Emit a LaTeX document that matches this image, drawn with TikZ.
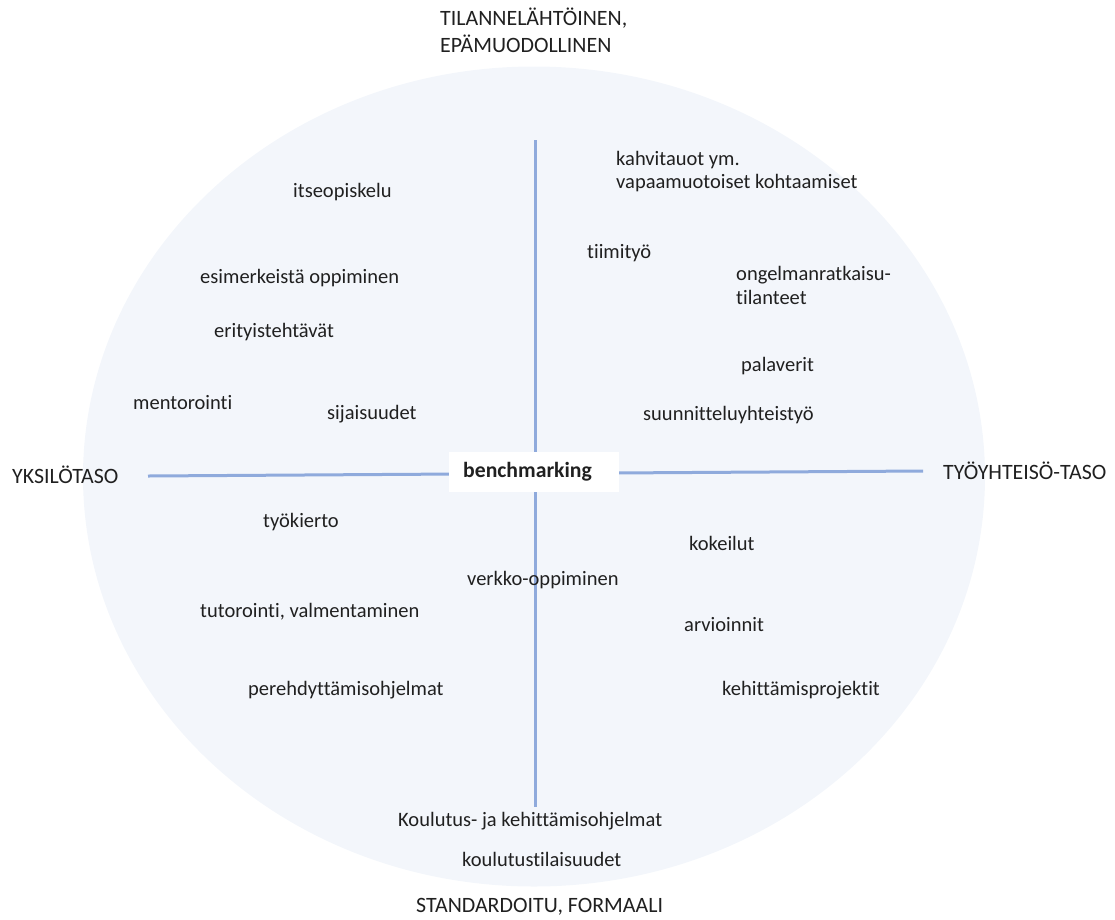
\documentclass[tikz,border=0pt]{standalone}
\usepackage{fontspec}
\setmainfont{Carlito}[Ligatures=NoCommon]
\usetikzlibrary{positioning}
\definecolor{discfill}{HTML}{F3F6FB}
\definecolor{axisblue}{HTML}{8FAADC}
\definecolor{inktext}{HTML}{202020}
\tikzset{
  axisline/.style={draw=axisblue, line width=3pt},
  item/.style={anchor=west, inner sep=0pt, text=inktext, align=left, font=\fontsize{20.5}{25}\selectfont},
  pole/.style={item, font=\fontsize{21.9}{26}\selectfont}
}
\begin{document}
\begin{tikzpicture}[x=1pt, y=-1pt]
\useasboundingbox (0,0) rectangle (1115,919);
\fill[discfill] (534,476.5) ellipse [x radius=451, y radius=410];
% axes
\coordinate (west) at (148,476);
\coordinate (east) at (923,471);
\coordinate (north) at (535,140);
\coordinate (south) at (535,807);
\draw[axisline] (west) -- (east);
\draw[axisline] (north) -- (south);
\node[item, fill=white, minimum height=40pt, text width=142pt, inner xsep=14pt, font=\fontsize{21.7}{26}\selectfont\bfseries] (bench) at (449,472) {benchmarking};
% poles
\node[pole] (tilanne) at (440,18) {TILANNELÄHTÖINEN,};
\node[pole] (epamuod) at (440,44) {EPÄMUODOLLINEN};
\node[pole] (yksilo) at (12,475) {YKSILÖTASO};
\node[pole] (tyoyht) at (943,471) {TYÖYHTEISÖ-TASO};
\node[pole] (standard) at (416,907) {STANDARDOITU, FORMAALI};
% learning forms
\foreach \nm/\px/\py/\txt in {itse/293/192/itseopiskelu, esim/200/278/esimerkeistä oppiminen, erit/214/332/erityistehtävät, mento/133/403/mentorointi, sijai/327/414/sijaisuudet, kahvi/616/160/kahvitauot ym., vapaa/616/183/vapaamuotoiset kohtaamiset, tiimi/587/253/tiimityö, ongel/736/275/ongelmanratkaisu-, tilan/736/297/tilanteet, pala/741/366/palaverit, suunn/643/415/suunnitteluyhteistyö, kierto/263/522/työkierto, verkko/467/580/verkko-oppiminen, tutor/200/612/{tutorointi, valmentaminen}, pereh/248/690/perehdyttämisohjelmat, kokeil/689/543/kokeilut, arvio/684/625/arvioinnit, kehit/722/690/kehittämisprojektit, koulut/398/821/Koulutus- ja kehittämisohjelmat, tilais/462/859/koulutustilaisuudet}
  \node[item] (\nm) at (\px,\py) {\txt};
\end{tikzpicture}
\end{document}
